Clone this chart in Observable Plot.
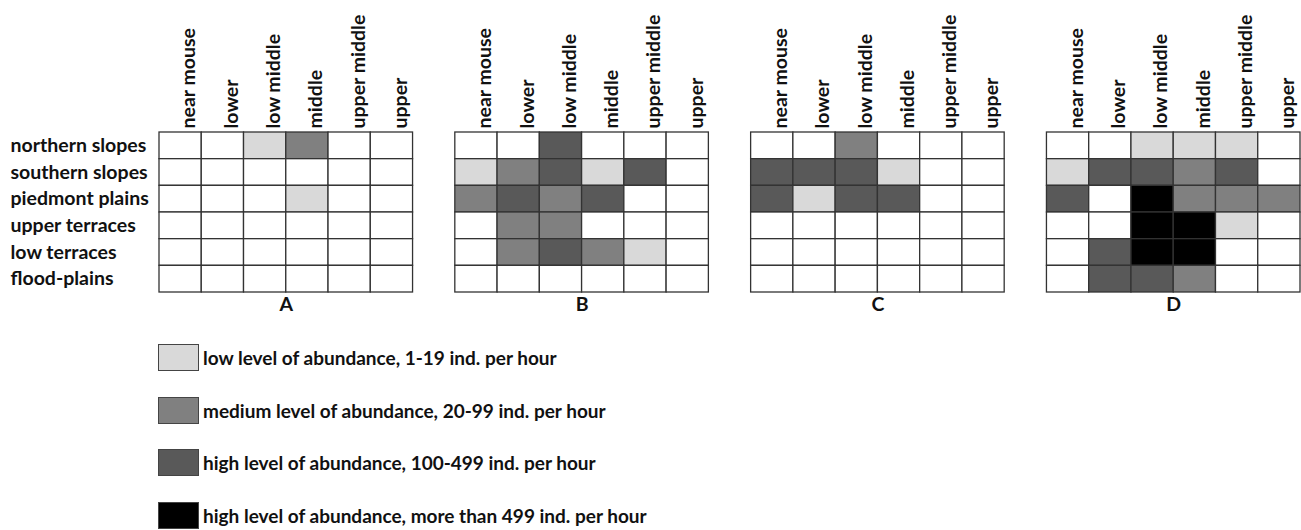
<!DOCTYPE html>
<html><head><meta charset="utf-8">
<script src="https://cdn.jsdelivr.net/npm/d3@7"></script>
<script src="https://cdn.jsdelivr.net/npm/@observablehq/plot@0.6"></script>
<style>
body{margin:0;background:#fff;font-family:Lato,sans-serif;}
#legend{margin-left:158px;margin-top:22px}
.item{display:flex;align-items:center;height:27px;margin-bottom:25.7px}
.sw{width:41px;height:27px;box-sizing:border-box;border:1.5px solid #444}
.lab{margin-left:4px;font-size:19px;font-weight:700;color:#111;white-space:nowrap}
</style></head><body><div id="chart"></div><div id="legend"></div>
<script>
const panels = ["A", "B", "C", "D"];
const zones = ["near mouse", "lower", "low middle", "middle", "upper middle", "upper"];
const habitats = ["northern slopes", "southern slopes", "piedmont plains", "upper terraces", "low terraces", "flood-plains"];
const levelLabels = [
  "no record",
  "low level of abundance, 1-19 ind. per hour",
  "medium level of abundance, 20-99 ind. per hour",
  "high level of abundance, 100-499 ind. per hour",
  "high level of abundance, more than 499 ind. per hour"
];
const levelColors = ["#ffffff", "#d9d9d9", "#808080", "#595959", "#000000"];
// rows = habitats, columns = zones; 0 none, 1 low, 2 medium, 3 high, 4 very high
const levelsA = [
  [0,0,1,2,0,0],
  [0,0,0,0,0,0],
  [0,0,0,1,0,0],
  [0,0,0,0,0,0],
  [0,0,0,0,0,0],
  [0,0,0,0,0,0]
];
const levelsB = [
  [0,0,3,0,0,0],
  [1,2,3,1,3,0],
  [2,3,2,3,0,0],
  [0,2,2,0,0,0],
  [0,2,3,2,1,0],
  [0,0,0,0,0,0]
];
const levelsC = [
  [0,0,2,0,0,0],
  [3,3,3,1,0,0],
  [3,1,3,3,0,0],
  [0,0,0,0,0,0],
  [0,0,0,0,0,0],
  [0,0,0,0,0,0]
];
const levelsD = [
  [0,0,1,1,1,0],
  [1,3,3,2,3,0],
  [3,0,4,2,2,2],
  [0,0,4,4,1,0],
  [0,3,4,4,0,0],
  [0,3,3,2,0,0]
];
const panelLevels = [levelsA, levelsB, levelsC, levelsD];

const cells = [];
panels.forEach((p, pi) => panelLevels[pi].forEach((row, ri) => row.forEach((v, ci) =>
  cells.push({panel: p, habitat: habitats[ri], zone: zones[ci], level: v}))));

const chart = Plot.plot({
  width: 1301, height: 322,
  marginLeft: 159, marginRight: 1, marginTop: 132, marginBottom: 30,
  style: {fontFamily: "Lato, sans-serif", fontSize: "19.5px", fontWeight: 700, color: "#111", background: "#fff", overflow: "visible"},
  fx: {domain: panels, paddingInner: 1/7, paddingOuter: 0, round: false, label: null},
  x: {domain: zones, padding: 0, round: false, axis: null},
  y: {domain: habitats, padding: 0, round: false, label: null},
  color: {type: "ordinal", domain: [0,1,2,3,4], range: levelColors},
  marks: [
    Plot.cell(cells, {fx: "panel", x: "zone", y: "habitat", fill: "level", stroke: "#333", strokeWidth: 1.3, inset: 0}),
    Plot.text(zones, {x: d => d, frameAnchor: "top", rotate: -90, textAnchor: "start", dy: -4, dx: 1}),
    Plot.axisY({anchor: "left", tickSize: 0, textAnchor: "start", dx: -140, label: null}),
    Plot.axisFx({anchor: "bottom", tickSize: 0, tickPadding: 5, label: null})
  ]
});
document.getElementById("chart").appendChild(chart);

const legend = document.getElementById("legend");
levelLabels.forEach((lab, i) => {
  if (i === 0) return;
  const item = document.createElement("div");
  item.className = "item";
  const sw = document.createElement("div");
  sw.className = "sw";
  sw.style.background = levelColors[i];
  const t = document.createElement("span");
  t.className = "lab";
  t.textContent = lab;
  item.appendChild(sw); item.appendChild(t);
  legend.appendChild(item);
});
</script></body></html>
